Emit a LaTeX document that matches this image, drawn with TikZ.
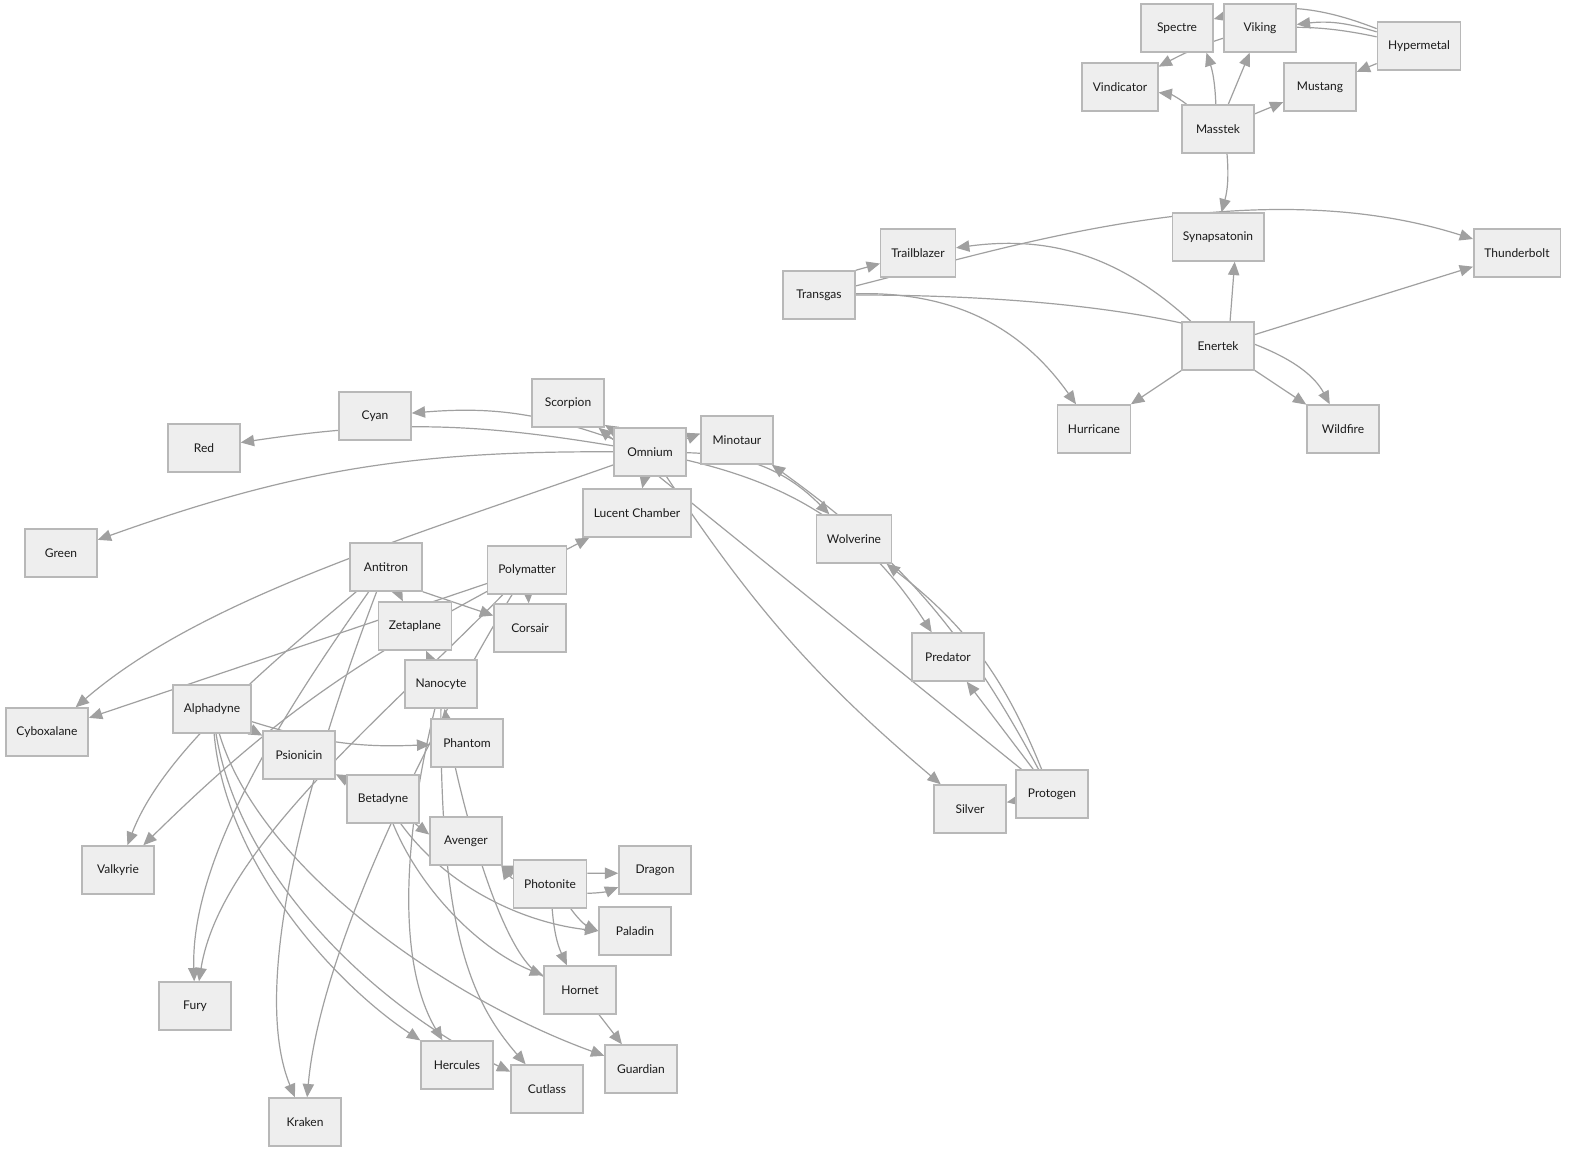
\documentclass[tikz,border=0pt]{standalone}
\usepackage{fontspec}
\setmainfont{Lato}
\usepackage{xcolor}
\usepackage{tikz}
\usetikzlibrary{arrows.meta,backgrounds}
\definecolor{boxfill}{HTML}{EEEEEE}
\definecolor{boxline}{HTML}{B8B8B8}
\definecolor{linkline}{HTML}{A0A0A0}
\definecolor{label}{HTML}{1A1A1A}
\tikzset{
  box/.style={draw=boxline, fill=boxfill, line width=1.1pt, minimum width=54pt,
    minimum height=36pt, inner xsep=8pt, text=label, font=\fontsize{9}{11}\selectfont},
  link/.style={-{Triangle[length=10pt,width=8.5pt]}, draw=linkline, line width=0.9pt}
}

\begin{document}
\begin{tikzpicture}[x=0.75pt,y=-0.75pt]
  \useasboundingbox (0,0) rectangle (1571,1153);

  % Masstek group
  \node[box] (Spectre) at (1177,28) {Spectre};
  \node[box] (Viking) at (1260,28) {Viking};
  \node[box] (Hypermetal) at (1419,46) {Hypermetal};
  \node[box] (Vindicator) at (1120,87) {Vindicator};
  \node[box] (Mustang) at (1320,87) {Mustang};
  \node[box] (Masstek) at (1218,129) {Masstek};
  \node[box] (Synapsatonin) at (1218,237) {Synapsatonin};
  \node[box] (Trailblazer) at (918,253) {Trailblazer};
  \node[box] (Thunderbolt) at (1517,253) {Thunderbolt};
  \node[box] (Transgas) at (819,295) {Transgas};
  \node[box] (Enertek) at (1218,346) {Enertek};
  \node[box] (Hurricane) at (1094,429) {Hurricane};
  \node[box] (Wildfire) at (1343,429) {Wildfire};

  % Omnium group
  \node[box] (Scorpion) at (568,403) {Scorpion};
  \node[box] (Cyan) at (375,416) {Cyan};
  \node[box] (Red) at (204,448) {Red};
  \node[box] (Omnium) at (650,452) {Omnium};
  \node[box] (Minotaur) at (737,440) {Minotaur};
  \node[box] (Lucent) at (637,513) {Lucent Chamber};
  \node[box] (Green) at (61,553) {Green};
  \node[box] (Wolverine) at (854,539) {Wolverine};
  \node[box] (Predator) at (948,657) {Predator};
  \node[box] (Silver) at (970,809) {Silver};
  \node[box] (Protogen) at (1052,794) {Protogen};

  % Lower left group
  \node[box] (Antitron) at (386,567) {Antitron};
  \node[box] (Polymatter) at (527,570) {Polymatter};
  \node[box] (Zetaplane) at (415,626) {Zetaplane};
  \node[box] (Corsair) at (530,628) {Corsair};
  \node[box] (Nanocyte) at (441,684) {Nanocyte};
  \node[box] (Alphadyne) at (212,709) {Alphadyne};
  \node[box] (Cyboxalane) at (47,732) {Cyboxalane};
  \node[box] (Phantom) at (467,743) {Phantom};
  \node[box] (Psionicin) at (299,755) {Psionicin};
  \node[box] (Betadyne) at (383,799) {Betadyne};
  \node[box] (Avenger) at (466,841) {Avenger};
  \node[box] (Valkyrie) at (118,870) {Valkyrie};
  \node[box] (Photonite) at (550,884) {Photonite};
  \node[box] (Dragon) at (655,870) {Dragon};
  \node[box] (Paladin) at (635,931) {Paladin};
  \node[box] (Hornet) at (580,990) {Hornet};
  \node[box] (Fury) at (195,1006) {Fury};
  \node[box] (Hercules) at (457,1065) {Hercules};
  \node[box] (Guardian) at (641,1069) {Guardian};
  \node[box] (Cutlass) at (547,1089) {Cutlass};
  \node[box] (Kraken) at (305,1122) {Kraken};

  \begin{scope}[on background layer]
    \fill[white] (0,0) rectangle (1571,1153);

    % Masstek and Hypermetal links
    \draw[link] (Hypermetal) to[bend right=18] (Spectre);
    \draw[link] (Hypermetal) to[bend right=12] (Viking);
    \draw[link] (Hypermetal) to[bend right=20] (Vindicator);
    \draw[link] (Hypermetal) -- (Mustang);
    \draw[link] (Masstek) to[bend right=15] (Vindicator);
    \draw[link] (Masstek.95) to[bend right=8] (Spectre.-40);
    \draw[link] (Masstek) -- (Viking);
    \draw[link] (Masstek) -- (Mustang);
    \draw[link] (Masstek.-70) to[bend left=10] (Synapsatonin.82);

    % Transgas and Enertek links
    \draw[link] (Transgas.north east) -- (Trailblazer);
    \draw[link] (Transgas) .. controls (1000,250) and (1250,168) .. (Thunderbolt);
    \draw[link] (Transgas) .. controls (1100,295) and (1290,330) .. (Wildfire);
    \draw[link] (Transgas) to[bend left=28] (Hurricane);
    \draw[link] (Enertek) to[bend right=25] (Trailblazer);
    \draw[link] (Enertek.64) -- (Synapsatonin.-56);
    \draw[link] (Enertek) -- (Thunderbolt);
    \draw[link] (Enertek) -- (Hurricane);
    \draw[link] (Enertek) -- (Wildfire);

    % Omnium links
    \draw[link] (Omnium) to[bend right=12] (Cyan);
    \draw[link] (Omnium) to[bend right=9] (Red);
    \draw[link] (Omnium) to[bend right=10] (Green);
    \draw[link] (Omnium) .. controls (400,540) and (200,600) .. (Cyboxalane);
    \draw[link] (Omnium) -- (Scorpion);
    \draw[link] (Omnium) -- (Lucent);
    \draw[link] (Omnium.20) -- (Minotaur.170);
    \draw[link] (Omnium) to[bend left=22] (Wolverine);
    \draw[link] (Omnium) to[bend left=22] (Predator);
    \draw[link] (Omnium) to[bend right=8] (Silver);

    % Protogen links
    \draw[link] (Protogen) -- (Scorpion);
    \draw[link] (Protogen) -- (Silver);
    \draw[link] (Protogen) -- (Predator);
    \draw[link] (Protogen) to[bend right=15] (Wolverine);
    \draw[link] (Protogen) to[bend right=13] (Minotaur);

    % Antitron and Polymatter links
    \draw[link] (Antitron) -- (Zetaplane);
    \draw[link] (Antitron.south east) -- (Corsair);
    \draw[link] (Antitron) .. controls (250,680) and (160,760) .. (Valkyrie);
    \draw[link] (Antitron) .. controls (300,690) and (190,850) .. (Fury);
    \draw[link] (Antitron) .. controls (290,820) and (255,1000) .. (Kraken);
    \draw[link] (Polymatter) -- (Lucent);
    \draw[link] (Polymatter) -- (Corsair);
    \draw[link] (Polymatter) -- (Cyboxalane);
    \draw[link] (Polymatter) to[bend right=8] (Valkyrie);
    \draw[link] (Polymatter) .. controls (380,720) and (220,850) .. (Fury);
    \draw[link] (Polymatter) .. controls (430,730) and (320,950) .. (Kraken);

    % Nanocyte links
    \draw[link] (Nanocyte) -- (Zetaplane);
    \draw[link] (Nanocyte) .. controls (405,830) and (395,960) .. (Hercules);
    \draw[link] (Nanocyte) .. controls (440,930) and (470,1000) .. (Cutlass);
    \draw[link] (Hornet) .. controls (500,960) and (455,780) .. (Nanocyte);

    % Alphadyne and Betadyne links
    \draw[link] (Alphadyne) -- (Psionicin);
    \draw[link] (Alphadyne) to[bend right=10] (Phantom);
    \draw[link] (Alphadyne) .. controls (225,860) and (330,980) .. (Hercules);
    \draw[link] (Alphadyne) .. controls (240,880) and (380,1010) .. (Cutlass);
    \draw[link] (Alphadyne) .. controls (260,870) and (450,1000) .. (Guardian);
    \draw[link] (Betadyne) -- (Psionicin);
    \draw[link] (Betadyne) -- (Avenger.170);
    \draw[link] (Betadyne) .. controls (445,885) and (520,922) .. (Paladin.west);
    \draw[link] (Betadyne) .. controls (420,890) and (480,950) .. (Hornet);

    % Photonite links
    \draw[link] (Photonite.160) -- (Avenger.-35);
    \draw[link] (Photonite.172) to[bend left=8] (Avenger.-35);
    \draw[link] (Photonite.16) -- (Dragon.185);
    \draw[link] (Photonite.-14) to[bend right=10] (Dragon.205);
    \draw[link] (Photonite.-50) to[bend right=15] (Paladin.west);
    \draw[link] (Photonite.-85) to[bend right=10] (Hornet.118);
    \draw[link] (Hornet) -- (Guardian);
  \end{scope}
\end{tikzpicture}
\end{document}
